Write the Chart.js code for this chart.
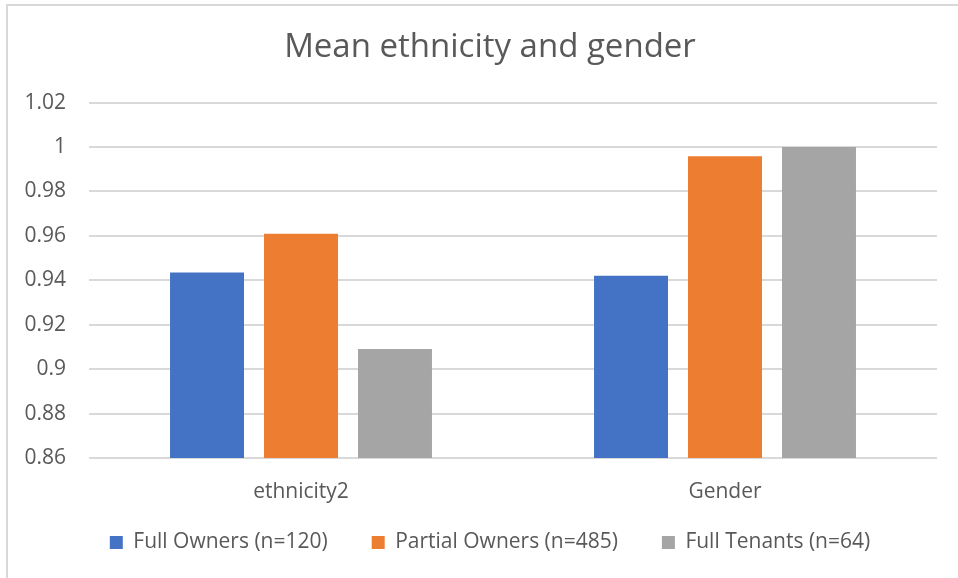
<!DOCTYPE html>
<html>
<head>
<meta charset="utf-8">
<script src="https://cdn.jsdelivr.net/npm/chart.js@4.4.1/dist/chart.umd.min.js"></script>
<style>
  html, body { margin: 0; padding: 0; background: #fff; }
  #wrap { position: relative; width: 958px; height: 578px; overflow: hidden; }
  #frame {
    position: absolute; left: 6px; top: 4px; width: 1200px; height: 800px;
    border-left: 2px solid #d9d9d9; border-top: 2px solid #d9d9d9;
    pointer-events: none;
  }
  canvas { position: absolute; left: 0; top: 0; }
</style>
</head>
<body>
<div id="wrap">
  <canvas id="js--chart--mean" width="980" height="578"></canvas>
  <div id="frame"></div>
</div>
<script>
const categories = ['ethnicity2', 'Gender'];
const fullOwners = [0.9435, 0.942];
const partialOwners = [0.961, 0.9959];
const fullTenants = [0.9091, 1.0];
const seriesNames = ['Full Owners (n=120)', 'Partial Owners (n=485)', 'Full Tenants (n=64)'];

const textColor = '#595959';
const fontFamily = "'Open Sans', 'Liberation Sans', sans-serif";

// pull the legend up a little so it sits closer to the category labels
const legendNudge = {
  id: 'legendNudge',
  afterLayout(chart) {
    const lg = chart.legend;
    if (!lg) return;
    lg.top -= 15;
    lg.bottom -= 15;
    lg.legendHitBoxes.forEach(b => { b.top -= 15; });
  }
};

const ctx = document.getElementById('js--chart--mean');

new Chart(ctx, {
  type: 'bar',
  data: {
    labels: categories,
    datasets: [
      { label: seriesNames[0], data: fullOwners, backgroundColor: '#4472C4' },
      { label: seriesNames[1], data: partialOwners, backgroundColor: '#ED7D31' },
      { label: seriesNames[2], data: fullTenants, backgroundColor: '#A5A5A5' }
    ]
  },
  plugins: [legendNudge],
  options: {
    responsive: false,
    animation: false,
    categoryPercentage: 0.665,
    barPercentage: 0.787,
    layout: { padding: { left: 0, right: 0, top: 0, bottom: 0 } },
    scales: {
      x: {
        grid: { display: false, drawTicks: false },
        border: { display: false },
        ticks: { color: textColor, font: { family: fontFamily, size: 21 }, padding: 21 },
        afterFit: axis => { axis.height = 45; }
      },
      y: {
        min: 0.86,
        max: 1.02,
        grid: { color: '#d9d9d9', lineWidth: 2, drawTicks: false },
        border: { display: false },
        ticks: {
          stepSize: 0.02,
          color: textColor,
          padding: 23,
          font: { family: fontFamily, size: 21 },
          callback: v => parseFloat(v.toFixed(2)).toString()
        },
        afterFit: axis => { axis.width = 89; }
      },
      // empty spacer on the right, the frame runs on past the plot
      yPad: {
        position: 'right',
        grid: { display: false },
        border: { display: false },
        ticks: { display: false },
        afterFit: axis => { axis.width = 43; }
      }
    },
    plugins: {
      title: {
        display: true,
        text: 'Mean ethnicity and gender',
        color: textColor,
        font: { family: fontFamily, size: 33, weight: 'normal' },
        padding: { top: 28, bottom: 35 }
      },
      legend: {
        position: 'bottom',
        labels: {
          color: textColor,
          boxWidth: 13,
          boxHeight: 13,
          padding: 44,
          font: { family: fontFamily, size: 21 }
        }
      },
      tooltip: { enabled: false }
    }
  }
});
</script>
</body>
</html>
